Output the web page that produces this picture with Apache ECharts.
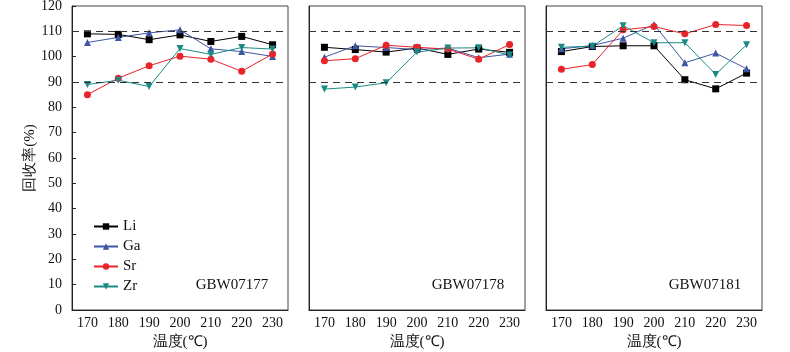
<!DOCTYPE html>
<html><head><meta charset="utf-8">
<script src="https://cdn.jsdelivr.net/npm/echarts@6/dist/echarts.min.js"></script>
<style>html,body{margin:0;padding:0;background:#fff}#c{width:790px;height:352px}</style>
</head><body><div id="c"></div>
<script>
const categories = ['170','180','190','200','210','220','230'];
const elements = ['Li','Ga','Sr','Zr'];
const samples = ['GBW07177','GBW07178','GBW07181'];
const yTicks = {min:0, max:120, interval:10};
const limits = [110, 90];

const li_07177 = [109.0,108.8,106.7,108.6,106.0,108.0,104.7];
const ga_07177 = [105.6,107.6,109.4,110.6,103.1,102.0,100.1];
const sr_07177 = [85.0,91.5,96.4,100.2,99.0,94.2,101.1];
const zr_07177 = [89.0,90.7,88.2,103.2,100.9,103.6,103.0];

const li_07178 = [103.7,102.8,101.8,103.4,100.9,103.0,101.7];
const ga_07178 = [99.8,104.3,103.6,102.8,103.4,99.6,101.0];
const sr_07178 = [98.4,99.2,104.5,103.7,103.0,99.0,104.8];
const zr_07178 = [87.2,88.0,89.7,101.8,103.4,103.5,100.7];

const li_07181 = [102.0,104.0,104.3,104.3,90.9,87.3,93.5];
const ga_07181 = [103.1,104.4,107.3,112.7,97.6,101.4,95.2];
const sr_07181 = [95.0,96.9,110.6,111.9,109.0,112.7,112.3];
const zr_07181 = [103.7,104.1,112.2,105.5,105.5,93.0,104.7];

const panelData = [
  [li_07177, ga_07177, sr_07177, zr_07177],
  [li_07178, ga_07178, sr_07178, zr_07178],
  [li_07181, ga_07181, sr_07181, zr_07181]
];

const colors = ['#000000','#3d55a5','#e8232a','#1b8a84'];
const symbols = ['rect','triangle','circle','path://M0,0 L10,0 L5,9 Z'];
const symSizes = [7,7,7,7];
const font = 'Liberation Serif';

const lefts = [72, 309, 546];
const grids = lefts.map(l => ({left:l, width:216, top:6, height:304, outerBoundsMode:'none', containLabel:false, show:true, borderColor:'#444', borderWidth:1, backgroundColor:'transparent'}));

const xAxes = lefts.map((l,i) => ({
  type:'category', gridIndex:i, data:categories, boundaryGap:true,
  name:'温度(℃)', nameLocation:'middle', nameGap:25,
  nameTextStyle:{fontFamily:font, fontSize:15, color:'#111'},
  axisLine:{lineStyle:{color:'#222', width:1}},
  axisTick:{inside:true, alignWithLabel:true, length:4, lineStyle:{color:'#222'}},
  axisLabel:{fontFamily:font, fontSize:14, color:'#111', margin:6},
  splitLine:{show:false}
}));

const yAxes = lefts.map((l,i) => ({
  type:'value', gridIndex:i, min:yTicks.min, max:yTicks.max, interval:yTicks.interval,
  name: i===0 ? '回收率(%)' : '', nameLocation:'middle', nameGap:34,
  nameTextStyle:{fontFamily:font, fontSize:15, color:'#111'},
  axisLine:{show:true, lineStyle:{color:'#222', width:1}},
  axisTick:{show:i===0, inside:true, length:4, lineStyle:{color:'#222'}},
  axisLabel:{show:i===0, fontFamily:font, fontSize:14, color:'#111', margin:10},
  splitLine:{show:false}
}));

const series = [];
panelData.forEach((arrs, g) => {
  arrs.forEach((vals, k) => {
    const s = {
      name: elements[k], type:'line', xAxisIndex:g, yAxisIndex:g,
      data: vals, symbol: symbols[k], symbolSize: symSizes[k],
      itemStyle:{color:colors[k]}, lineStyle:{color:colors[k], width:1},
      z: 3
    };
    if (k === 0) {
      s.markLine = {
        silent:true, symbol:['none','none'], label:{show:false},
        lineStyle:{color:'#333', type:[7,5], width:1},
        data: limits.map(v => ({yAxis:v}))
      };
    }
    series.push(s);
  });
});

const centers = [232, 468, 705];
const graphics = samples.map((s,i) => ({
  type:'text', x: centers[i], y: 285,
  style:{text:s, fontFamily:font, fontSize:15, fill:'#111', align:'center', verticalAlign:'middle'}
}));

const chart = echarts.init(document.getElementById('c'), null, {renderer:'canvas'});
chart.setOption({
  animation:false,
  backgroundColor:'#fff',
  grid: grids, xAxis: xAxes, yAxis: yAxes, series: series,
  legend:{
    data: elements, orient:'vertical', left:88, top:214, itemGap:5,
    itemWidth:24, itemHeight:8,
    textStyle:{fontFamily:font, fontSize:15, color:'#111'}
  },
  graphic: graphics
});
</script></body></html>
